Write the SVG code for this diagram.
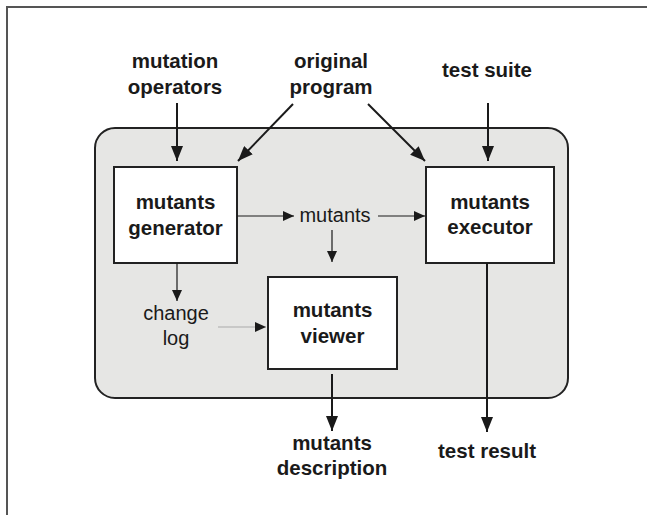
<svg xmlns="http://www.w3.org/2000/svg" width="647" height="515" viewBox="0 0 647 515">
<defs>
<style>
.lbl{font-family:"Liberation Sans",Arial,sans-serif;font-size:20.5px;font-weight:bold;fill:#1a1a1a;text-anchor:middle}
.reg{font-family:"Liberation Sans",Arial,sans-serif;font-size:20px;fill:#1a1a1a;text-anchor:middle}
.box{fill:#fff;stroke:#222;stroke-width:2}
.thick{stroke:#1a1a1a;stroke-width:2;fill:none;marker-end:url(#ah)}
.thin{stroke:#1a1a1a;stroke-width:1.2;fill:none;marker-end:url(#as)}
.faint{stroke:#aaa;stroke-width:1;fill:none;marker-end:url(#as)}
</style>
<marker id="ah" markerUnits="userSpaceOnUse" markerWidth="15" markerHeight="12" refX="15" refY="6" orient="auto">
<path d="M0,0 L15,6 L0,12 z" fill="#1a1a1a"/>
</marker>
<marker id="as" markerUnits="userSpaceOnUse" markerWidth="11" markerHeight="10" refX="11" refY="5" orient="auto">
<path d="M0,0 L11,5 L0,10 z" fill="#1a1a1a"/>
</marker>
</defs>
<rect x="0" y="0" width="647" height="515" fill="#fff"/>
<rect x="7" y="7" width="700" height="600" fill="none" stroke="#555" stroke-width="2"/>
<rect id="system" x="95" y="128" width="473" height="270" rx="20" ry="20" fill="#e6e6e4" stroke="#222" stroke-width="2"/>

<g id="mutation-operators"><text class="lbl" x="175" y="68">mutation</text><text class="lbl" x="175" y="94">operators</text></g>
<g id="original-program"><text class="lbl" x="331" y="68">original</text><text class="lbl" x="331" y="94">program</text></g>
<g id="test-suite"><text class="lbl" x="487" y="77">test suite</text></g>

<g id="mutants-generator"><rect class="box" x="114" y="167" width="123" height="96"/><text class="lbl" x="175.5" y="209">mutants</text><text class="lbl" x="175.5" y="235">generator</text></g>
<g id="mutants-executor"><rect class="box" x="426" y="167" width="128" height="96"/><text class="lbl" x="490" y="209">mutants</text><text class="lbl" x="490" y="234">executor</text></g>
<g id="mutants-viewer"><rect class="box" x="268" y="277" width="129" height="92"/><text class="lbl" x="332.5" y="317">mutants</text><text class="lbl" x="332.5" y="343">viewer</text></g>

<g id="mutants"><text class="reg" x="335" y="222">mutants</text></g>
<g id="change-log"><text class="reg" x="176" y="320">change</text><text class="reg" x="176" y="345">log</text></g>
<g id="mutants-description"><text class="lbl" x="332" y="450">mutants</text><text class="lbl" x="332" y="475">description</text></g>
<g id="test-result"><text class="lbl" x="487" y="458">test result</text></g>

<g id="connectors">
<line class="thick" x1="177" y1="103" x2="177" y2="161"/>
<line class="thick" x1="293" y1="104" x2="238" y2="161"/>
<line class="thick" x1="368" y1="104" x2="425" y2="161"/>
<line class="thick" x1="488" y1="103" x2="488" y2="161"/>
<line class="thin" x1="237" y1="216" x2="294" y2="216"/>
<line class="thin" x1="378" y1="216" x2="425" y2="216"/>
<line class="thin" x1="332" y1="230" x2="332" y2="262"/>
<line class="thin" x1="177" y1="263" x2="177" y2="301"/>
<line class="faint" x1="218" y1="327" x2="266" y2="327"/>
<line class="thick" x1="332" y1="374" x2="332" y2="431"/>
<line class="thick" x1="487" y1="263" x2="487" y2="432"/>
</g>
</svg>
